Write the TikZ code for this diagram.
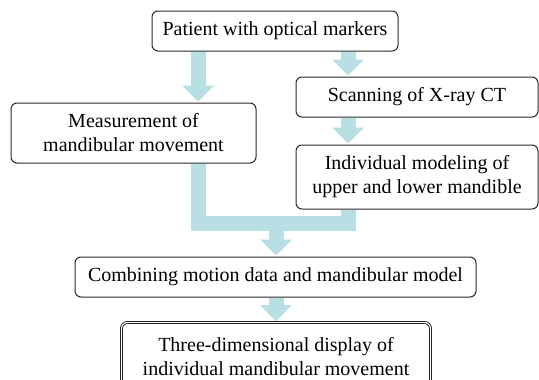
\documentclass[tikz,border=0pt]{standalone}
\usepackage{fontspec}
\setmainfont{Liberation Serif}
\usetikzlibrary{arrows.meta,backgrounds}
\definecolor{arrowc}{RGB}{184,223,227}
\definecolor{boxline}{RGB}{40,40,40}
\tikzset{
  stepbox/.style={draw=boxline, line width=1pt, rounded corners=6pt, fill=white,
    inner sep=0pt, align=center, text=black,
    font=\fontsize{20}{24}\selectfont},
  finalbox/.style={stepbox, draw=black, line width=0.8pt, double=white, double distance=1.2pt},
  fatline/.style={draw=arrowc, line width=15pt, line join=miter},
  fatarrow/.style={draw=arrowc, line width=15pt,
    -{Triangle[width=32pt,length=16pt,line width=0pt]}, shorten >=1pt}
}
\begin{document}
\begin{tikzpicture}[x=1pt,y=-1pt]
\useasboundingbox (0,0) rectangle (539,380);
\coordinate (lc) at (198,0);
\coordinate (rc) at (348,0);
\coordinate (mrg) at (276,223);
\node[stepbox, minimum width=246pt, minimum height=40pt] (top) at (275,31) {Patient with optical markers};
\node[stepbox, minimum width=245pt, minimum height=60pt] (meas) at (133.5,133) {Measurement of\\mandibular movement};
\node[stepbox, minimum width=242pt, minimum height=40pt] (scan) at (417,97) {Scanning of X-ray CT};
\node[stepbox, minimum width=242pt, minimum height=64pt] (indiv) at (417,177) {Individual modeling of\\upper and lower mandible};
\node[stepbox, minimum width=401pt, minimum height=40pt] (comb) at (275.5,277) {Combining motion data and mandibular model};
\node[finalbox, minimum width=309pt, minimum height=69pt] (final) at (276,357) {Three-dimensional display of\\individual mandibular movement};
\begin{scope}[on background layer]
\draw[fatarrow] (top.south -| lc) -- (meas.north -| lc);
\draw[fatarrow] (top.south -| rc) -- (scan.north -| rc);
\draw[fatarrow] (scan.south -| rc) -- (indiv.north -| rc);
\draw[fatline] (meas.south -| lc) |- (mrg) -| (indiv.south -| rc);
\draw[fatarrow] (mrg) -- (comb.north -| mrg);
\draw[fatarrow] (comb.south -| mrg) -- (final.north -| mrg);
\end{scope}
\end{tikzpicture}
\end{document}
